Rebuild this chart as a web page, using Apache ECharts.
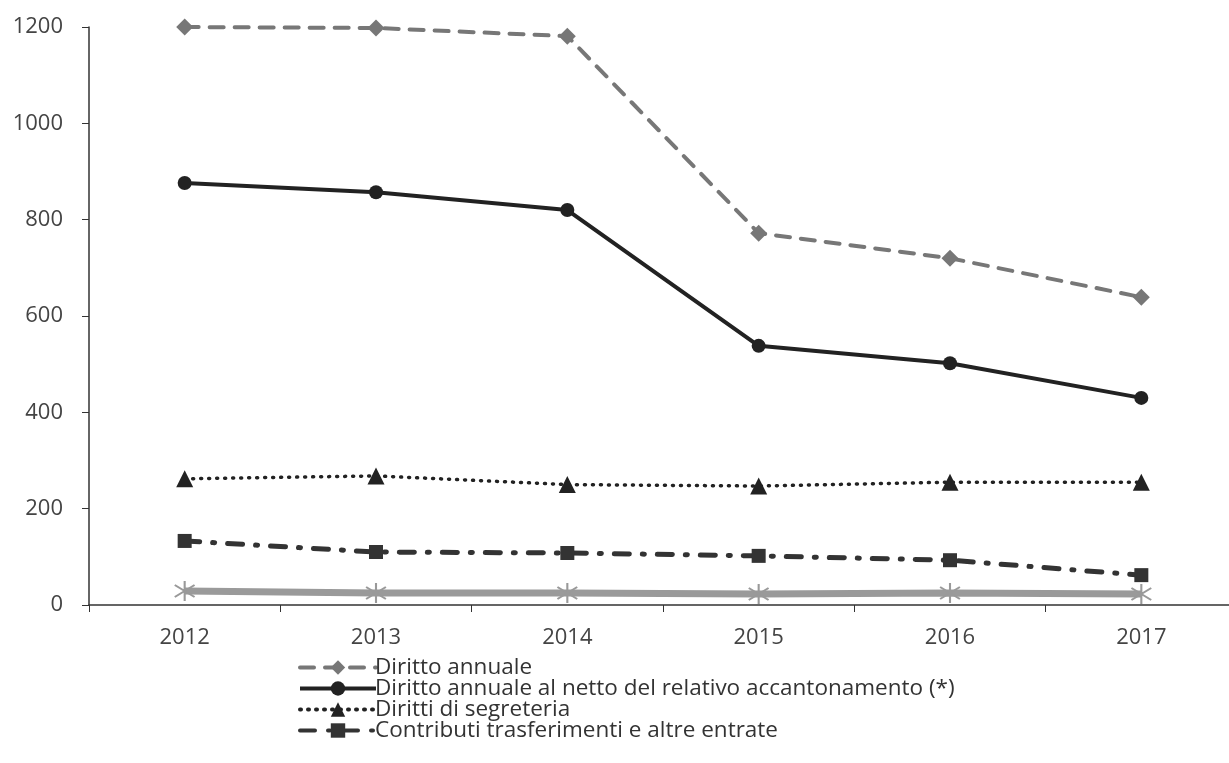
<!DOCTYPE html>
<html><head><meta charset="utf-8">
<script src="https://cdn.jsdelivr.net/npm/echarts@6/dist/echarts.min.js"></script>
<style>html,body{margin:0;padding:0;background:#fff;overflow:hidden}#c{width:1240px;height:763px}</style>
</head><body><div id="c"></div>
<script>
const categories = ['2012','2013','2014','2015','2016','2017'];
const dirittoAnnuale = [1200, 1198, 1181, 772, 720, 639];
const dirittoNetto = [876, 857, 820, 538, 502, 430];
const dirittiSegreteria = [262, 268, 250, 247, 255, 255];
const contributi = [133, 110, 108, 102, 93, 62];
const altro = [29, 25, 25, 23, 25, 23];
const names = ['Diritto annuale','Diritto annuale al netto del relativo accantonamento (*)','Diritti di segreteria','Contributi trasferimenti e altre entrate',''];
const yTicks = {min:0, max:1200, interval:200};

const FONT = 'Open Sans';
const chart = echarts.init(document.getElementById('c'));
chart.setOption({
  animation:false,
  backgroundColor:'#fff',
  grid:{left:89, top:27, bottom:158, right:3},
  xAxis:{type:'category', data:categories, boundaryGap:true,
    axisLine:{lineStyle:{color:'#333', width:1.5}},
    axisTick:{show:true, length:7, interval:0, lineStyle:{color:'#333'}},
    axisLabel:{color:'#444', fontSize:22, fontFamily:FONT, margin:22}},
  yAxis:{type:'value', min:yTicks.min, max:yTicks.max, interval:yTicks.interval,
    splitLine:{show:false},
    axisLine:{show:true, lineStyle:{color:'#333', width:1.5}},
    axisTick:{show:true, length:7, lineStyle:{color:'#333'}},
    axisLabel:{color:'#444', fontSize:22, fontFamily:FONT, margin:26, formatter:v=>String(v)}},
  legend:{orient:'vertical', left:293, top:651, itemWidth:76, itemHeight:18, itemGap:-2,
    data:names.slice(0,4),
    lineStyle:{width:4},
    textStyle:{color:'#333', fontSize:22.5, fontFamily:FONT, lineHeight:20, padding:[0,0,0,-6]}},
  series:[
    {name:names[0], type:'line', data:dirittoAnnuale, color:'#7c7c7c',
      lineStyle:{width:4, type:[14,11], cap:'round'}, symbol:'diamond', symbolSize:17,
      itemStyle:{color:'#777'}},
    {name:names[1], type:'line', data:dirittoNetto, color:'#222',
      lineStyle:{width:4}, symbol:'circle', symbolSize:14, itemStyle:{color:'#222'}},
    {name:names[2], type:'line', data:dirittiSegreteria, color:'#222',
      lineStyle:{width:3.5, type:[1,7], cap:'round'}, symbol:'triangle', symbolSize:17, itemStyle:{color:'#222'}},
    {name:names[3], type:'line', data:contributi, color:'#222',
      lineStyle:{width:5, type:[15,13,2,13], cap:'round'}, symbol:'rect', symbolSize:14, itemStyle:{color:'#333'}},
    {name:'altro', type:'line', data:altro, color:'#999',
      lineStyle:{width:7, color:'#9a9a9a'},
      symbol:'path://M0,-10L0,10M-9,-6L9,6M-9,6L9,-6', symbolSize:[22,20], symbolKeepAspect:true,
      itemStyle:{color:'rgba(0,0,0,0)', borderColor:'#999', borderWidth:2}}
  ]
});
</script></body></html>
